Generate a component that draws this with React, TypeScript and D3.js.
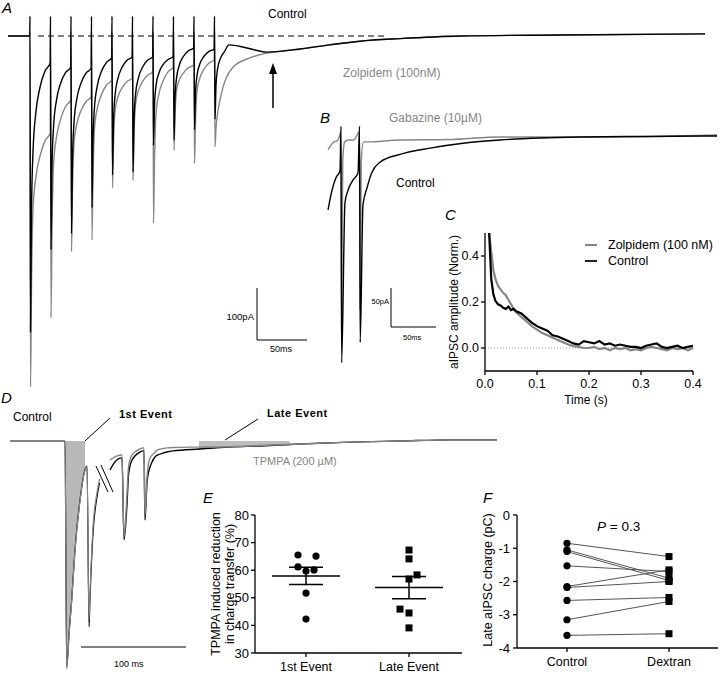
import * as d3 from "d3";

const FONT = "Arial, 'Liberation Sans', Helvetica, sans-serif";
const GREY = "#858585";

// ---- A: 10 pulse train, control vs zolpidem (ms, pA)
const stimTimesA = [0, 20.5, 41, 61.5, 82, 102.5, 123, 143.5, 164, 184.5];
const controlPeaksA = [-569, -411, -380, -330, -267, -262, -210, -200, -180, -160];
const zolpidemPeaksA = [-675, -542, -415, -392, -292, -278, -360, -220, -245, -213];
const controlPreA = [0, -52, -60, -62, -42, -40, -40, -40, -23, -25];
const zolpidemPreA = [0, -187, -123, -117, -85, -81, -69, -60, -56, -46];
// part of each event still left at these times after the stimulus (ms)
const decayOffsetsA = [0.5, 1.5, 3, 6, 10, 15];
const controlDecayA = [1, 0.55, 0.33, 0.18, 0.09, 0.03];
const zolpidemDecayA = [1, 0.6, 0.3, 0.17, 0.09, 0.03];
const controlAfterA: [number, number][] = [[199, -17], [217, -23], [237, -31]];
const zolpidemAfterA: [number, number][] = [[190, -123], [203, -60], [220, -42], [237, -33]];
const tailTimeA = [270, 300, 330, 370, 430, 530, 675];
const tailValueA = [-25, -17, -10, -5, 0, 2, 4];

// ---- B: control vs gabazine (ms, pA)
const controlTimeB = [-14.4, -10, -5.6, -1.1, 0, 0.7, 4.4, 7.8, 13.3, 18.9, 20.6, 21.3, 24.4, 28.9, 34.4, 43.3, 65.6, 98.9, 137.8, 176.7, 221, 265.6, 340, 417.8];
const controlValueB = [-92, -67, -51, -42, 15, -288, -83, -67, -54, -45, 15, -262, -86, -64, -44, -31, -21, -13, -6.4, -2.6, 0, 1.3, 2, 2.6];
const gabazineTimeB = [-14.4, -8.9, -3.3, 0, 0.6, 2, 4, 8, 14, 20.6, 21.2, 22.5, 25, 28.9, 65.6, 120, 176.7, 287.8, 417.8];
const gabazineValueB = [-15, -6, -2.6, 8, -246, -28, -5, -2.6, -2.6, 8, -220, -30, -5, -5, -2.6, -2, 1.3, 1.3, 3.8];

// ---- C: normalised late aIPSC (s, norm.)
const timeC = [0.008, 0.012, 0.016, 0.02, 0.025, 0.03, 0.035, 0.04, 0.045, 0.05, 0.055, 0.06, 0.07, 0.08, 0.09, 0.1, 0.11, 0.12, 0.13, 0.14, 0.15, 0.16, 0.17, 0.18, 0.19, 0.2, 0.21, 0.22, 0.23, 0.24, 0.25, 0.26, 0.27, 0.28, 0.29, 0.3, 0.31, 0.32, 0.33, 0.34, 0.35, 0.36, 0.37, 0.38, 0.39, 0.4];
const zolpidemC = [0.5, 0.42, 0.34, 0.3, 0.27, 0.255, 0.24, 0.23, 0.21, 0.19, 0.17, 0.155, 0.135, 0.115, 0.095, 0.08, 0.065, 0.055, 0.045, 0.035, 0.025, 0.015, 0.008, 0.005, 0, 0, 0.005, -0.005, 0, -0.01, 0, -0.005, 0, -0.01, -0.005, -0.01, 0, 0.005, 0, -0.005, -0.01, 0, -0.005, 0, -0.01, 0];
const controlC = [0.5, 0.3, 0.235, 0.205, 0.19, 0.185, 0.175, 0.17, 0.18, 0.165, 0.17, 0.16, 0.15, 0.13, 0.11, 0.095, 0.085, 0.075, 0.055, 0.05, 0.04, 0.03, 0.02, 0.015, 0.03, 0.025, 0.02, 0.03, 0.015, 0.02, 0.01, 0.015, 0.01, 0.005, 0.005, 0, 0.01, 0.015, 0.02, 0.005, 0, 0.005, 0.01, 0, 0.005, 0.01];
const xTicksC = [0, 0.1, 0.2, 0.3, 0.4];
const yTicksC = [0, 0.2, 0.4];

// ---- D: control vs TPMPA (ms, pA); two pieces either side of the break
const seg1TimeD = [-52.4, -20, 0, 1.6, 4, 6.4, 9.5, 14.3, 19, 21, 22.9, 23.8, 26.7, 30.5, 32.9];
const seg1ControlD = [0, 0, 0, -595, -500, -418, -287, -155, -76, -66, -489, -418, -242, -147, -110];
const seg1TpmpaD = [0, 0, 0, -600, -505, -420, -290, -158, -78, -68, -470, -400, -225, -135, -100];
const seg2TimeD = [42.9, 47.6, 52.9, 54.3, 56.2, 59, 60.5, 63.8, 71.4, 74.3, 75.2, 76.2, 78.1, 79, 81, 82.9, 85.7, 87.6, 93.3, 97.1, 102.9, 128.6, 157, 185.7, 223.8, 271.4, 319, 366.7, 411.4];
const seg2ControlD = [-76, -55, -45, -45, -260, -168, -89, -50, -29, -26, -26, -208, -110, -90, -68, -55, -42, -38, -32, -29, -26, -21, -16, -13, -8, -3, 0, 3, 3];
const seg2TpmpaD = [-50, -42, -37, -37, -253, -142, -68, -37, -21, -18, -18, -195, -95, -68, -45, -37, -30, -24, -20, -18, -17, -16, -15, -12, -8, -3, 0, 3, 3];
const firstWindowD = [0, 19];
const lateWindowD = [127.6, 214];

// ---- E: TPMPA reduction in charge transfer (%)
const eCategories = ["1st Event", "Late Event"];
const firstEventValues = [65.5, 65.1, 61.2, 59.7, 60.1, 51.7, 42.3];
const lateEventValues = [67.3, 64.1, 56.8, 58.3, 45.9, 44.5, 39.1];
const firstEventJitter = [-8, 10, -8, 0, 8, 0, 0];
const lateEventJitter = [0, 0, 0, 8, -9, 0, 0];
const yTicksE = [30, 40, 50, 60, 70, 80];

// ---- F: late aIPSC charge (pC), paired
const fCategories = ["Control", "Dextran"];
const controlCharge = [-0.85, -1.05, -1.1, -1.53, -2.15, -2.18, -2.57, -3.15, -3.62];
const dextranCharge = [-1.25, -1.9, -1.97, -1.7, -1.65, -2.0, -2.48, -2.6, -3.57];
const yTicksF = [0, -1, -2, -3, -4];

function buildTrainA(peaks: number[], pre: number[], decay: number[], artifact: number, after: [number, number][]) {
  const pts: [number, number][] = [[-22, 0]];
  stimTimesA.forEach((s, i) => {
    const last = i === stimTimesA.length - 1;
    const nextT = last ? after[0][0] : stimTimesA[i + 1];
    const target = last ? after[0][1] : pre[i + 1];
    pts.push([s - 0.3, pre[i]], [s, artifact], [s + decayOffsetsA[0], peaks[i]]);
    for (let k = 1; k < decayOffsetsA.length; k++) {
      const t = s + decayOffsetsA[k];
      if (t < nextT - 0.5) pts.push([t, target + decay[k] * (peaks[i] - target)]);
    }
  });
  after.forEach((p) => pts.push(p));
  tailTimeA.forEach((t, i) => pts.push([t, tailValueA[i]]));
  return pts;
}

const zip = (a: number[], b: number[]) => a.map((v, i) => [v, b[i]] as [number, number]);

const txt = { fontFamily: FONT };

export default function App() {
  // A
  const xA = d3.scaleLinear().domain([0, 50]).range([30, 80]);
  const yA = d3.scaleLinear().domain([0, -100]).range([36, 88]);
  const lineA = d3.line<[number, number]>().x((d) => xA(d[0])).y((d) => yA(d[1])).curve(d3.curveMonotoneX);
  const zolA = buildTrainA(zolpidemPeaksA, zolpidemPreA, zolpidemDecayA, 8, zolpidemAfterA);
  const conA = buildTrainA(controlPeaksA, controlPreA, controlDecayA, 38, controlAfterA);

  // B
  const xB = d3.scaleLinear().domain([0, 50]).range([341, 386]);
  const yB = d3.scaleLinear().domain([0, -50]).range([138, 177]);
  const lineB = d3.line<[number, number]>().x((d) => xB(d[0])).y((d) => yB(d[1])).curve(d3.curveMonotoneX);

  // C
  const xC = d3.scaleLinear().domain([0, 0.4]).range([485, 693]);
  const yC = d3.scaleLinear().domain([-0.1, 0.5]).range([371, 233]);
  const lineC = d3.line<[number, number]>().x((d) => xC(d[0])).y((d) => yC(d[1]));
  const fmtC = d3.format(".1f");

  // D
  const xD = d3.scaleLinear().domain([0, 100]).range([65, 170]);
  const yD = d3.scaleLinear().domain([0, -100]).range([441, 479]);
  const lineD = d3.line<[number, number]>().x((d) => xD(d[0])).y((d) => yD(d[1])).curve(d3.curveMonotoneX);
  const areaD = d3.area<[number, number]>().x((d) => xD(d[0])).y0(yD(0)).y1((d) => yD(d[1])).curve(d3.curveMonotoneX);

  // E
  const xE = d3.scalePoint<string>().domain(eCategories).range([306, 409]);
  const yE = d3.scaleLinear().domain([30, 80]).range([653, 515]);
  const groupsE = [
    { cat: eCategories[0], values: firstEventValues, jitter: firstEventJitter, shape: "circle" },
    { cat: eCategories[1], values: lateEventValues, jitter: lateEventJitter, shape: "square" },
  ];

  // F
  const xF = d3.scalePoint<string>().domain(fCategories).range([567, 669]);
  const yF = d3.scaleLinear().domain([-4, 0]).range([648, 515]);

  const panelLabel = (x: number, y: number, s: string) => (
    <text x={x} y={y} fontSize={15} fontStyle="italic" style={txt}>{s}</text>
  );

  return (
    <svg width={720} height={678} style={{ position: "absolute", left: 0, top: 0, background: "#fff" }} fontFamily={FONT}>
      <defs>
        <clipPath id="clipFirst">
          <rect x={xD(firstWindowD[0])} y={0} width={xD(firstWindowD[1]) - xD(firstWindowD[0])} height={678} />
        </clipPath>
        <clipPath id="clipLate">
          <rect x={xD(lateWindowD[0])} y={0} width={xD(lateWindowD[1]) - xD(lateWindowD[0])} height={678} />
        </clipPath>
      </defs>

      {/* ---------- A ---------- */}
      {panelLabel(2, 13, "A")}
      <line x1={38} x2={385} y1={yA(0)} y2={yA(0)} stroke="#000" strokeDasharray="6,4" strokeWidth={1} />
      <path d={lineA(zolA) || ""} fill="none" stroke={GREY} strokeWidth={1.4} />
      <path d={lineA(conA) || ""} fill="none" stroke="#000" strokeWidth={1.4} />
      <text x={268} y={18} fontSize={12}>Control</text>
      <text x={343} y={77} fontSize={12} fill={GREY}>Zolpidem (100nM)</text>
      <line x1={273} x2={273} y1={108} y2={72} stroke="#000" strokeWidth={1.5} />
      <path d="M269,74 L273,63 L277,74 Z" fill="#000" />
      <path d={`M257,${yA(0) + 252} V${yA(-100) + 252} H${257 + xA(50) - xA(0)}`} fill="none" stroke="#000" strokeWidth={1} />
      <text x={254} y={320} fontSize={9.5} textAnchor="end">100pA</text>
      <text x={270} y={352} fontSize={9}>50ms</text>

      {/* ---------- B ---------- */}
      {panelLabel(320, 123, "B")}
      <text x={389} y={122} fontSize={12} fill={GREY}>Gabazine (10µM)</text>
      <path d={lineB(zip(gabazineTimeB, gabazineValueB)) || ""} fill="none" stroke={GREY} strokeWidth={1.4} />
      <path d={lineB(zip(controlTimeB, controlValueB)) || ""} fill="none" stroke="#000" strokeWidth={1.4} />
      <text x={396} y={187} fontSize={12}>Control</text>
      <path d={`M391,${yB(0) + 150} V${yB(-50) + 150} H${391 + xB(50) - xB(0)}`} fill="none" stroke="#000" strokeWidth={1} />
      <text x={389} y={304} fontSize={7.5} textAnchor="end">50pA</text>
      <text x={403} y={340} fontSize={7.5}>50ms</text>

      {/* ---------- C ---------- */}
      {panelLabel(445, 220, "C")}
      <line x1={xC(0)} x2={xC(0.4)} y1={yC(0)} y2={yC(0)} stroke="#999" strokeDasharray="1,2" />
      <path d={lineC(zip(timeC, zolpidemC)) || ""} fill="none" stroke={GREY} strokeWidth={2.2} />
      <path d={lineC(zip(timeC, controlC)) || ""} fill="none" stroke="#000" strokeWidth={2.2} />
      <line x1={xC(0)} x2={xC(0)} y1={yC(0.5)} y2={yC(-0.1)} stroke="#000" strokeWidth={1.3} />
      <line x1={xC(0)} x2={xC(0.4)} y1={yC(-0.1)} y2={yC(-0.1)} stroke="#000" strokeWidth={1.3} />
      {yTicksC.map((v) => (
        <g key={v}>
          <line x1={xC(0) - 4} x2={xC(0)} y1={yC(v)} y2={yC(v)} stroke="#000" strokeWidth={1.3} />
          <text x={xC(0) - 6} y={yC(v)} dy="0.35em" fontSize={12.5} textAnchor="end">{fmtC(v)}</text>
        </g>
      ))}
      {xTicksC.map((v) => (
        <g key={v}>
          <line x1={xC(v)} x2={xC(v)} y1={yC(-0.1)} y2={yC(-0.1) + 4} stroke="#000" strokeWidth={1.3} />
          <text x={xC(v)} y={388} fontSize={12.5} textAnchor="middle">{fmtC(v)}</text>
        </g>
      ))}
      <text x={586} y={404} fontSize={12} textAnchor="middle">Time (s)</text>
      <text transform={`translate(458,${(yC(0.5) + yC(-0.1)) / 2}) rotate(-90)`} fontSize={12} textAnchor="middle">aIPSC amplitude (Norm.)</text>
      <line x1={585} x2={597} y1={245} y2={245} stroke={GREY} strokeWidth={2} />
      <text x={608} y={249} fontSize={12.5}>Zolpidem (100 nM)</text>
      <line x1={585} x2={597} y1={261} y2={261} stroke="#222" strokeWidth={2} />
      <text x={608} y={265} fontSize={12.5}>Control</text>

      {/* ---------- D ---------- */}
      {panelLabel(1, 403, "D")}
      <text x={13} y={421} fontSize={12}>Control</text>
      <path d={areaD(zip(seg1TimeD, seg1ControlD)) || ""} fill="#b8b8b8" clipPath="url(#clipFirst)" />
      <path d={areaD(zip(seg2TimeD, seg2ControlD)) || ""} fill="#bdbdbd" clipPath="url(#clipLate)" />
      <path d={lineD(zip(seg1TimeD, seg1ControlD)) || ""} fill="none" stroke="#000" strokeWidth={1.2} />
      <path d={lineD(zip(seg1TimeD, seg1TpmpaD)) || ""} fill="none" stroke={GREY} strokeWidth={1.2} />
      <path d={lineD(zip(seg2TimeD, seg2ControlD)) || ""} fill="none" stroke="#000" strokeWidth={1.4} />
      <path d={lineD(zip(seg2TimeD, seg2TpmpaD)) || ""} fill="none" stroke={GREY} strokeWidth={1.4} />
      <line x1={96} y1={466} x2={108} y2={492} stroke="#000" strokeWidth={1} />
      <line x1={101} y1={465} x2={113} y2={492} stroke="#000" strokeWidth={1} />
      <line x1={xD(firstWindowD[1])} y1={yD(0)} x2={110} y2={418} stroke="#000" strokeWidth={1} />
      <text x={119} y={418} fontSize={11} fontWeight="bold" letterSpacing={0.5}>1st Event</text>
      <line x1={225} y1={yD(0) - 1} x2={258} y2={419} stroke="#000" strokeWidth={1} />
      <text x={267} y={417} fontSize={11} fontWeight="bold" letterSpacing={0.5}>Late Event</text>
      <text x={253} y={465} fontSize={11} fill={GREY}>TPMPA (200 µM)</text>
      <line x1={81} x2={81 + xD(100) - xD(0)} y1={647} y2={647} stroke="#000" strokeWidth={1} />
      <text x={114} y={667} fontSize={9}>100 ms</text>

      {/* ---------- E ---------- */}
      {panelLabel(203, 503, "E")}
      <line x1={255} x2={255} y1={yE(80)} y2={yE(30)} stroke="#000" strokeWidth={1.3} />
      <line x1={255} x2={462} y1={yE(30)} y2={yE(30)} stroke="#000" strokeWidth={1.3} />
      {yTicksE.map((v) => (
        <g key={v}>
          <line x1={251} x2={255} y1={yE(v)} y2={yE(v)} stroke="#000" strokeWidth={1.3} />
          <text x={249} y={yE(v)} dy="0.35em" fontSize={13} textAnchor="end">{v}</text>
        </g>
      ))}
      {eCategories.map((c) => (
        <g key={c}>
          <line x1={xE(c)} x2={xE(c)} y1={yE(30)} y2={yE(30) + 4} stroke="#000" strokeWidth={1.3} />
          <text x={xE(c)} y={yE(30) + 18} fontSize={12.5} textAnchor="middle">{c}</text>
        </g>
      ))}
      <text transform={`translate(220,584) rotate(-90)`} fontSize={12.5} textAnchor="middle">TPMPA induced reduction</text>
      <text transform={`translate(234,584) rotate(-90)`} fontSize={12.5} textAnchor="middle">in charge transfer (%)</text>
      {groupsE.map((g) => {
        const cx = xE(g.cat) as number;
        const m = d3.mean(g.values) as number;
        const sem = (d3.deviation(g.values) as number) / Math.sqrt(g.values.length);
        return (
          <g key={g.cat}>
            {g.values.map((v, i) =>
              g.shape === "circle" ? (
                <circle key={i} cx={cx + g.jitter[i]} cy={yE(v)} r={3.6} fill="#000" />
              ) : (
                <rect key={i} x={cx + g.jitter[i] - 3.5} y={yE(v) - 3.5} width={7} height={7} fill="#000" />
              )
            )}
            <line x1={cx - 34} x2={cx + 34} y1={yE(m)} y2={yE(m)} stroke="#000" strokeWidth={1.5} />
            <line x1={cx} x2={cx} y1={yE(m + sem)} y2={yE(m - sem)} stroke="#000" strokeWidth={1.5} />
            <line x1={cx - 17} x2={cx + 17} y1={yE(m + sem)} y2={yE(m + sem)} stroke="#000" strokeWidth={1.5} />
            <line x1={cx - 17} x2={cx + 17} y1={yE(m - sem)} y2={yE(m - sem)} stroke="#000" strokeWidth={1.5} />
          </g>
        );
      })}

      {/* ---------- F ---------- */}
      {panelLabel(483, 503, "F")}
      <line x1={517} x2={517} y1={yF(0)} y2={yF(-4)} stroke="#000" strokeWidth={1.3} />
      <line x1={517} x2={718} y1={yF(-4)} y2={yF(-4)} stroke="#000" strokeWidth={1.3} />
      {yTicksF.map((v) => (
        <g key={v}>
          <line x1={513} x2={517} y1={yF(v)} y2={yF(v)} stroke="#000" strokeWidth={1.3} />
          <text x={510} y={yF(v)} dy="0.35em" fontSize={13} textAnchor="end">{String(v)}</text>
        </g>
      ))}
      {fCategories.map((c) => (
        <g key={c}>
          <line x1={xF(c)} x2={xF(c)} y1={yF(-4)} y2={yF(-4) + 4} stroke="#000" strokeWidth={1.3} />
          <text x={xF(c)} y={yF(-4) + 18} fontSize={12.5} textAnchor="middle">{c}</text>
        </g>
      ))}
      <text transform={`translate(492,580) rotate(-90)`} fontSize={12.5} textAnchor="middle">Late aIPSC charge (pC)</text>
      <text x={597} y={531} fontSize={13.5}>
        <tspan fontStyle="italic">P</tspan> = 0.3
      </text>
      {controlCharge.map((v, i) => (
        <line key={i} x1={xF(fCategories[0])} x2={xF(fCategories[1])} y1={yF(v)} y2={yF(dextranCharge[i])} stroke="#555" strokeWidth={1} />
      ))}
      {controlCharge.map((v, i) => (
        <circle key={i} cx={xF(fCategories[0])} cy={yF(v)} r={3.6} fill="#000" />
      ))}
      {dextranCharge.map((v, i) => (
        <rect key={i} x={(xF(fCategories[1]) as number) - 3.5} y={yF(v) - 3.5} width={7} height={7} fill="#000" />
      ))}
    </svg>
  );
}
